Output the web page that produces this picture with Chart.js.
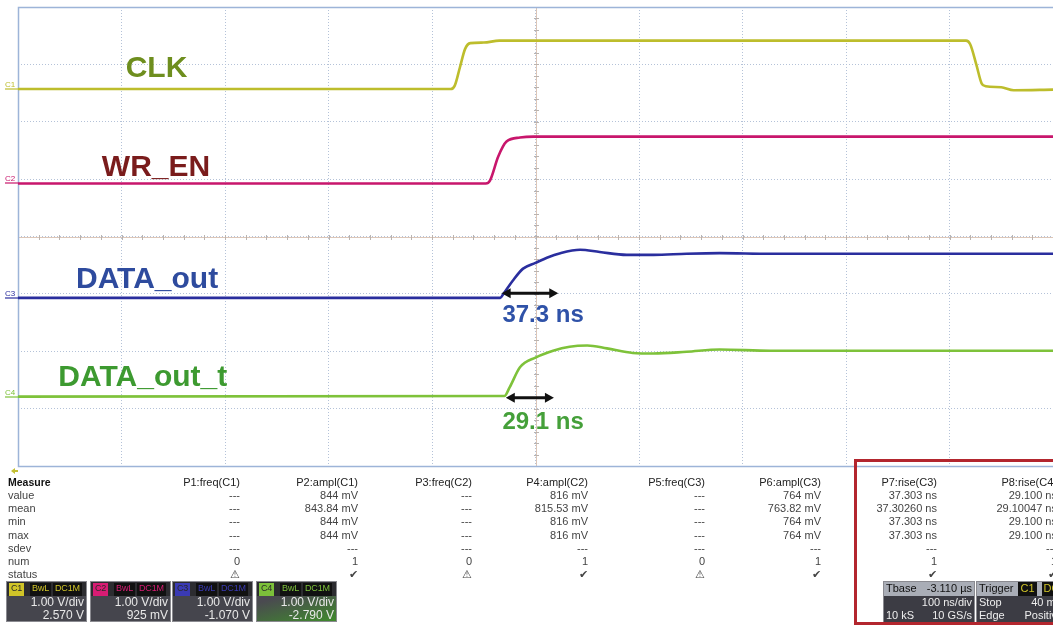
<!DOCTYPE html>
<html>
<head>
<meta charset="utf-8">
<script src="https://cdn.jsdelivr.net/npm/chart.js@4.4.1/dist/chart.umd.min.js"></script>
<style>
  html, body { margin: 0; padding: 0; background: #fff; }
  #scope { position: relative; width: 1053px; height: 626px; overflow: hidden;
           font-family: Arial, 'Liberation Sans', sans-serif; }
  #scope canvas { position: absolute; left: 0; top: 0; }
  .mtxt { position: absolute; font-size: 11px; line-height: 13px; color: #444; white-space: nowrap; }
  .mhead { color: #222; }
  .cbox { position: absolute; top: 581px; height: 41px; background: #45454d; overflow: hidden;
          border: 1px solid #8a8a90; box-sizing: border-box; color: #e8e8e8; font-size: 12px; }
  .chead { height: 13px; background: #2c2c30; display: flex; gap: 2px; padding: 1px 1px 0 2px;
           font-size: 9px; line-height: 11px; letter-spacing: -0.2px; }
  .chead span { padding: 0 2px; background: #111; }
  .crow { text-align: right; padding-right: 2px; line-height: 13px; }
  .tbox { position: absolute; top: 581px; height: 42px; background: #3c3c44; color: #eee; overflow: hidden;
          font-size: 11px; line-height: 13.5px; box-sizing: border-box; border: 1px solid #8a8a90; }
  .trow { display: flex; justify-content: space-between; padding: 0 2px; white-space: nowrap; }
  .trow.top { background: #a9adb6; color: #111; }
  #redframe { position: absolute; left: 854px; top: 459px; width: 215px; height: 166px;
              border: 3px solid #b3262e; box-sizing: border-box; }
</style>
</head>
<body>
<div id="scope">
  <canvas id="scopeChart" width="1053" height="626"></canvas>
  <div id="panel"></div>
  <div id="redframe"></div>
</div>
<script>
// channel setup (1 V/div each, offset in V)
const chanNames = ['C1', 'C2', 'C3', 'C4'];
const chanOffsetV = [2.570, 0.925, -1.070, -2.790];
const traceNames = ['CLK', 'WR_EN', 'DATA_out', 'DATA_out_t'];

// captured waveforms: time in ns across the 10 divisions, level in V
const clkT = [0, 418, 422, 427, 432, 437, 450, 465, 916, 920, 926, 931, 935, 950, 962, 1000];
const clkV = [0, 0, 0.06, 0.38, 0.70, 0.80, 0.81, 0.844, 0.844, 0.78, 0.42, 0.10, 0.05, 0.03, -0.02, -0.01];

const wrT = [0, 452, 456, 464, 472, 485, 498, 1000];
const wrV = [0, 0, 0.05, 0.47, 0.73, 0.80, 0.816, 0.816];

const doutT = [0, 466, 469, 478, 488, 500, 511, 524, 543, 562, 588, 614, 646, 678, 727, 1000];
const doutV = [0, 0, 0.07, 0.30, 0.51, 0.61, 0.70, 0.78, 0.84, 0.80, 0.75, 0.75, 0.77, 0.78, 0.77, 0.77];

const douttT = [0, 470, 475, 485, 500, 517, 533, 550, 569, 594, 614, 646, 678, 727, 1000];
const douttV = [0, 0.01, 0.16, 0.51, 0.68, 0.80, 0.87, 0.89, 0.84, 0.76, 0.75, 0.78, 0.82, 0.80, 0.80];

// marked rise intervals on C3 and C4
const riseStartNs = [476, 480];
const riseTimeNs = [37.3, 29.1];

// measurement table
const measRows = ['value', 'mean', 'min', 'max', 'sdev', 'num', 'status'];
const measHeads = ['P1:freq(C1)', 'P2:ampl(C1)', 'P3:freq(C2)', 'P4:ampl(C2)',
                   'P5:freq(C3)', 'P6:ampl(C3)', 'P7:rise(C3)', 'P8:rise(C4)'];
const measCols = [
  ['---', '---', '---', '---', '---', '0', '\u26A0'],
  ['844 mV', '843.84 mV', '844 mV', '844 mV', '---', '1', '\u2714'],
  ['---', '---', '---', '---', '---', '0', '\u26A0'],
  ['816 mV', '815.53 mV', '816 mV', '816 mV', '---', '1', '\u2714'],
  ['---', '---', '---', '---', '---', '0', '\u26A0'],
  ['764 mV', '763.82 mV', '764 mV', '764 mV', '---', '1', '\u2714'],
  ['37.303 ns', '37.30260 ns', '37.303 ns', '37.303 ns', '---', '1', '\u2714'],
  ['29.100 ns', '29.10047 ns', '29.100 ns', '29.100 ns', '---', '1', '\u2714']
];

// timebase / trigger readout
const tbaseRows = [['Tbase', '-3.110 \u00B5s'], ['', '100 ns/div'], ['10 kS', '10 GS/s']];
const trigRows = [['Trigger', ''], ['Stop', '40 mV'], ['Edge', 'Positive']];

// ---- styling ----
const traceColors = ['#bdbd2c', '#c8166c', '#2a2e9e', '#7ec23a'];
const labelColors = ['#6e8e1e', '#7a1c1c', '#2e4b9e', '#3d9a30'];
const tagColors = ['#d0c428', '#d81c74', '#3a3ab4', '#7cc03a'];
const labelAt = [[104, 2.98], [81, 1.25], [56, -0.70], [39, -2.41]];   // [ns, div], left / middle
const arrowLevel = [-0.99, -2.81];            // div
const riseLabelAt = [[468, -1.34], [468, -3.21]];
const riseColors = ['#2f52a8', '#45a03a'];
const measRight = [240, 358, 472, 588, 705, 821, 937, 1057];

function trace(ts, vs, ch) {
  return ts.map((t, i) => ({ x: t, y: vs[i] + chanOffsetV[ch] }));
}

const traces = [[clkT, clkV], [wrT, wrV], [doutT, doutV], [douttT, douttV]];

const scopeDecor = {
  id: 'scopeDecor',
  beforeDatasetsDraw(chart) {
    const { ctx, chartArea: a, scales: { x, y } } = chart;
    ctx.save();
    // centre cross with minor ticks
    const cx = Math.round(x.getPixelForValue(500)) + 0.5, cy = Math.round(y.getPixelForValue(0)) + 0.5;
    ctx.strokeStyle = '#dcc6b8';
    ctx.lineWidth = 1;
    ctx.beginPath();
    ctx.moveTo(a.left, cy); ctx.lineTo(a.right, cy);
    ctx.moveTo(cx, a.top); ctx.lineTo(cx, a.bottom);
    ctx.stroke();
    ctx.strokeStyle = '#b9b3b0';
    ctx.beginPath();
    for (let t = 0; t <= 1000; t += 20) {
      const px = Math.round(x.getPixelForValue(t)) + 0.5;
      ctx.moveTo(px, cy - 2.5); ctx.lineTo(px, cy + 2.5);
    }
    for (let d = -4; d <= 4; d += 0.2) {
      const py = Math.round(y.getPixelForValue(d)) + 0.5;
      ctx.moveTo(cx - 2.5, py); ctx.lineTo(cx + 2.5, py);
    }
    ctx.stroke();
    // frame
    ctx.strokeStyle = '#9db4d8';
    ctx.lineWidth = 1.5;
    ctx.strokeRect(a.left + 0.5, a.top + 0.5, a.right - a.left + 4, a.bottom - a.top);
    // channel ground markers
    ctx.font = '8px Arial';
    chanNames.forEach((n, i) => {
      const py = Math.round(y.getPixelForValue(chanOffsetV[i]));
      ctx.strokeStyle = traceColors[i];
      ctx.fillStyle = traceColors[i];
      ctx.lineWidth = 1.2;
      ctx.beginPath(); ctx.moveTo(5, py); ctx.lineTo(a.left, py); ctx.stroke();
      ctx.fillText(n, 5, py - 2);
    });
    // trigger position marker
    ctx.fillStyle = '#c4c034';
    ctx.beginPath();
    ctx.moveTo(11, a.bottom + 5); ctx.lineTo(15, a.bottom + 2); ctx.lineTo(15, a.bottom + 8);
    ctx.closePath(); ctx.fill();
    ctx.fillRect(15, a.bottom + 4, 3, 2);
    ctx.restore();
  },
  afterDatasetsDraw(chart) {
    const { ctx, scales: { x, y } } = chart;
    ctx.save();
    ctx.textBaseline = 'alphabetic';
    ctx.font = 'bold 30px Arial, "Liberation Sans"';
    traceNames.forEach((n, i) => {
      ctx.fillStyle = labelColors[i];
      ctx.fillText(n, x.getPixelForValue(labelAt[i][0]), y.getPixelForValue(labelAt[i][1]) + 11);
    });
    // rise-time arrows and values
    riseTimeNs.forEach((r, i) => {
      const x0 = x.getPixelForValue(riseStartNs[i]);
      const x1 = x.getPixelForValue(riseStartNs[i] + r);
      const py = y.getPixelForValue(arrowLevel[i]);
      const head = 9;
      ctx.strokeStyle = '#111';
      ctx.fillStyle = '#111';
      ctx.lineWidth = 3;
      ctx.beginPath(); ctx.moveTo(x0 - 2, py); ctx.lineTo(x1 + 2, py); ctx.stroke();
      ctx.beginPath();
      ctx.moveTo(x0 - head, py); ctx.lineTo(x0, py - 5); ctx.lineTo(x0, py + 5); ctx.closePath();
      ctx.moveTo(x1 + head, py); ctx.lineTo(x1, py - 5); ctx.lineTo(x1, py + 5); ctx.closePath();
      ctx.fill();
      ctx.font = 'bold 24px Arial, "Liberation Sans"';
      ctx.fillStyle = riseColors[i];
      ctx.fillText(r.toFixed(1) + ' ns', x.getPixelForValue(riseLabelAt[i][0]),
                   y.getPixelForValue(riseLabelAt[i][1]) + 8.5);
    });
    ctx.restore();
  }
};

new Chart(document.getElementById('scopeChart'), {
  type: 'line',
  data: {
    datasets: traces.map(([ts, vs], i) => ({
      label: traceNames[i],
      data: trace(ts, vs, i),
      borderColor: traceColors[i],
      borderWidth: 2.6,
      pointRadius: 0,
      cubicInterpolationMode: 'monotone',
      fill: false
    }))
  },
  options: {
    responsive: false,
    animation: false,
    events: [],
    layout: { padding: { left: 18, top: 7, right: 0, bottom: 160 } },
    plugins: { legend: { display: false }, tooltip: { enabled: false } },
    scales: {
      x: {
        type: 'linear', min: 0, max: 1000,
        ticks: { display: false, stepSize: 100 },
        grid: { color: '#b4c2d8', lineWidth: 1, drawTicks: false },
        border: { display: false, dash: [1, 2] }
      },
      y: {
        type: 'linear', min: -4, max: 4,
        ticks: { display: false, stepSize: 1 },
        grid: { color: '#b4c2d8', lineWidth: 1, drawTicks: false },
        border: { display: false, dash: [1, 2] }
      }
    }
  },
  plugins: [scopeDecor]
});

// ---- readout panel below the grid ----
const panel = document.getElementById('panel');
function add(html, style, cls) {
  const d = document.createElement('div');
  d.className = cls;
  d.setAttribute('style', style);
  d.innerHTML = html;
  panel.appendChild(d);
  return d;
}
const rowTop = 476, rowStep = 13.15;
add('Measure', `left:8px;top:${rowTop}px;color:#111;font-weight:bold;font-size:10.5px`, 'mtxt');
measRows.forEach((r, i) => add(r, `left:8px;top:${rowTop + (i + 1) * rowStep}px`, 'mtxt'));
measHeads.forEach((h, c) => {
  const left = measRight[c] - 140;
  add(h, `left:${left}px;width:140px;text-align:right;top:${rowTop}px`, 'mtxt mhead');
  measCols[c].forEach((v, i) => {
    add(v, `left:${left}px;width:140px;text-align:right;top:${rowTop + (i + 1) * rowStep}px`, 'mtxt');
  });
});

const boxLeft = [6, 90, 172, 256], boxWidth = 81;
chanNames.forEach((n, i) => {
  const off = chanOffsetV[i];
  const offTxt = Math.abs(off) < 1 ? Math.round(off * 1000) + ' mV' : off.toFixed(3) + ' V';
  const bg = i === 3 ? 'background:linear-gradient(165deg,#4a4a50 35%,#3f8a2c 100%);' : '';
  add(`<div class="chead"><span style="background:${tagColors[i]};color:#2a2a2a">${n}</span>` +
      `<span style="color:${tagColors[i]};margin-left:4px">BwL</span>` +
      `<span style="color:${tagColors[i]}">DC1M</span></div>` +
      `<div class="crow">1.00 V/div</div><div class="crow">${offTxt}</div>`,
      `left:${boxLeft[i]}px;width:${boxWidth}px;${bg}`, 'cbox');
});

add(tbaseRows.map((r, i) => `<div class="trow${i === 0 ? ' top' : ''}"><span>${r[0]}</span><span>${r[1]}</span></div>`).join(''),
    'left:883px;width:92px', 'tbox');
add(trigRows.map((r, i) => i === 0
      ? `<div class="trow top" style="justify-content:flex-start;gap:5px"><span>${r[0]}</span>` +
        `<span style="background:#111;color:${tagColors[0]};padding:0 2px">C1</span>` +
        `<span style="background:#111;color:${tagColors[0]};padding:0 2px">DC1M</span></div>`
      : `<div class="trow"><span>${r[0]}</span><span>${r[1]}</span></div>`).join(''),
    'left:976px;width:90px', 'tbox');
</script>
</body>
</html>
